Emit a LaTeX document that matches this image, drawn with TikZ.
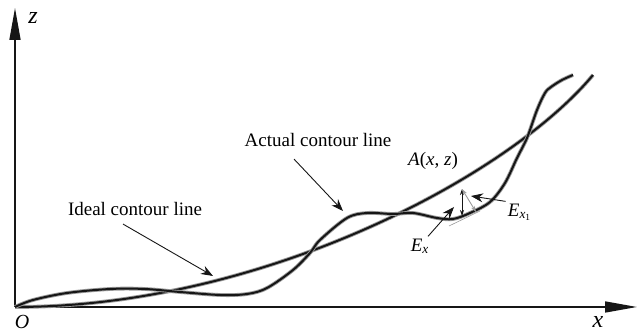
\documentclass[tikz,border=0pt]{standalone}
\usepackage{fontspec}
\setmainfont{Liberation Serif}
\usetikzlibrary{arrows.meta}
\definecolor{Ink}{HTML}{161616}
\definecolor{Halo}{HTML}{9A9A9A}

\begin{document}
\begin{tikzpicture}[x=.5pt,y=.5pt,
  axis/.style={line width=.8pt,draw=Ink,-{Triangle[length=16pt,width=5.5pt]}},
  contour/.style={line width=1pt,draw=Ink,preaction={draw=Halo,line width=1.9pt}},
  pointer/.style={line width=.45pt,draw=Ink,-{Stealth[length=6pt,width=4.5pt]}},
  gap/.style={line width=.45pt,{Stealth[length=3pt,width=2pt]}-{Stealth[length=3pt,width=2pt]}},
  tag/.style={inner sep=1pt,font=\fontsize{9.5}{11}\selectfont},
  axlabel/.style={inner sep=0pt,font=\fontsize{12}{14}\selectfont\itshape}]
  \useasboundingbox (0,0) rectangle (637,335);
  % axes
  \coordinate (o) at (15,28);
  \coordinate (zend) at (15,327);
  \coordinate (xend) at (637,28);
  \draw[axis] (o) -- (zend);
  \draw[axis] (o) -- (xend);
  \node[axlabel] (zlab) at (33,317) {z};
  \node[axlabel,font=\fontsize{10}{12}\selectfont\itshape] (olab) at (22,13) {O};
  \node[axlabel] (xlab) at (598,13) {x};
  % ideal and actual contour
  \draw[contour] (o) .. controls (265,28) and (510,160) .. (593,260);
  \draw[contour] plot[smooth,tension=.55] coordinates {(15,28) (33,35) (67,42)
    (110,46) (145,46) (180,43) (220,40) (247,41) (267,47) (293,65) (310,82)
    (320,95) (347,117) (367,122) (393,121) (413,122) (437,117) (453,116)
    (470,122) (490,133) (505,152) (517,177) (527,197) (537,225) (545,242)
    (551,248) (562,255) (573,260)};
  % labels
  \node[tag] (ideal) at (135,126) {Ideal contour line};
  \node[tag] (actual) at (318,195) {Actual contour line};
  \node[tag] (apt) at (433,174) {\textit{A}(\textit{x}, \textit{z})};
  \node[tag] (ex) at (420,89) {\textit{E}\textsubscript{\textit{x}}};
  \node[tag] (exa) at (520,123) {\textit{E}\textsubscript{\textit{x}\textsubscript{1}}};
  \coordinate (tipI) at (213,59);
  \coordinate (tipA) at (343,124);
  \coordinate (tipE) at (454,128);
  \coordinate (tipE1) at (471,139);
  \draw[pointer] ([shift={(-6pt,-3pt)}]ideal.south) -- (tipI);
  \draw[pointer] ([shift={(-12pt,-5pt)}]actual.south) -- (tipA);
  \draw[pointer] ([xshift=4pt]ex.north) -- (tipE);
  \draw[pointer] (exa.north west) -- (tipE1);
  % errors at A
  \coordinate (a) at (462,146);
  \coordinate (av) at (462,119);
  \coordinate (an) at (476,123);
  \draw[gap,draw=Ink] (a) -- (av);
  \draw[gap,color=Halo] (a) -- (an);
  \draw[line width=.3pt,Halo] (449,109) -- (480,124);
\end{tikzpicture}
\end{document}
